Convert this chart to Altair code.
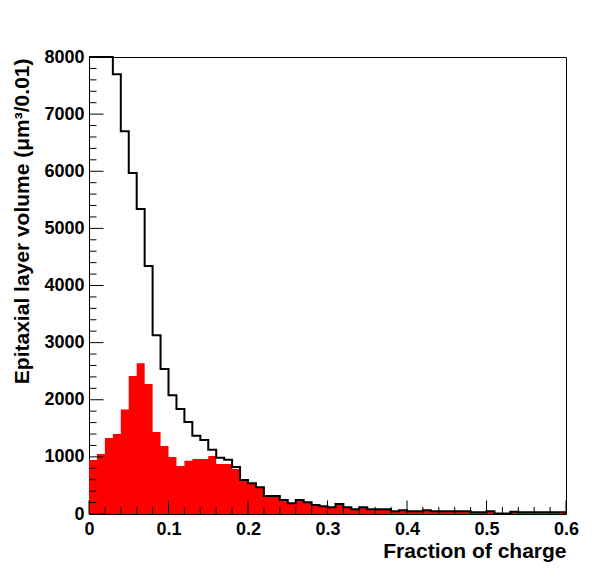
import altair as alt
import pandas as pd

# ---- data (bin width 0.01 from 0 to 0.6) ----
bin_width = 0.01
n_bins = 60

total_volume = [8000, 8000, 8000, 7700, 6700, 5970, 5340, 4340, 3130, 2540,
                2080, 1840, 1610, 1370, 1295, 1126, 986, 951, 823, 595,
                537, 470, 315, 315, 245, 190, 245, 207, 158, 137,
                117, 175, 117, 82, 117, 82, 82, 82, 50, 67,
                47, 47, 64, 47, 47, 47, 47, 47, 29, 29,
                47, 8, 8, 41, 29, 29, 29, 29, 29, 29]

red_volume = [945, 1050, 1330, 1400, 1830, 2415, 2640, 2275, 1435, 1190,
              1000, 840, 933, 963, 963, 1015, 875, 875, 788, 595,
              537, 470, 315, 315, 245, 190, 245, 207, 158, 137,
              115, 172, 114, 82, 117, 82, 82, 82, 50, 67,
              47, 47, 64, 47, 47, 47, 47, 47, 29, 29,
              47, 8, 8, 41, 29, 29, 29, 29, 29, 29]

x_major = [0, 0.1, 0.2, 0.3, 0.4, 0.5, 0.6]
x_minor = [0.02, 0.04, 0.06, 0.08, 0.12, 0.14, 0.16, 0.18, 0.22, 0.24, 0.26, 0.28,
           0.32, 0.34, 0.36, 0.38, 0.42, 0.44, 0.46, 0.48, 0.52, 0.54, 0.56, 0.58]
y_major = [0, 1000, 2000, 3000, 4000, 5000, 6000, 7000, 8000]
y_minor = [v for v in range(200, 8000, 200) if v % 1000 != 0]

# ---- tables ----
edges = [round(i * bin_width, 4) for i in range(n_bins + 1)]
hist = pd.DataFrame({
    "edge": edges,
    "total": total_volume + [total_volume[-1]],
    "red": red_volume + [red_volume[-1]],
})

W, H = 477, 457
FONT = "Liberation Sans"

xs = alt.Scale(domain=[0, 0.6], nice=False, zero=False)
ys = alt.Scale(domain=[0, 8000], nice=False)

x_axis = alt.Axis(values=x_major, format="~g", title="Fraction of charge",
                  ticks=False, tickSize=0, domain=False, grid=False,
                  labelFont=FONT, labelFontSize=18, labelFontWeight="bold",
                  labelColor="black", labelPadding=6, labelOverlap=False, labelFlush=False,
                  titleFont=FONT, titleFontSize=21, titleFontWeight="bold", titleColor="black",
                  titleX=477, titleY=43, titleAlign="right", titleAnchor="end",
                  titleBaseline="alphabetic")
y_axis = alt.Axis(values=y_major, format="d", title="Epitaxial layer volume (μm³/0.01)",
                  ticks=False, tickSize=0, domain=False, grid=False,
                  labelFont=FONT, labelFontSize=18, labelFontWeight="bold",
                  labelColor="black", labelPadding=5, labelOverlap=False, labelFlush=False,
                  titleFont=FONT, titleFontSize=21, titleFontWeight="bold", titleColor="black",
                  titleX=-61, titleY=1, titleAlign="right", titleAngle=270,
                  titleBaseline="alphabetic")

red_area = alt.Chart(hist).mark_area(interpolate="step-after", color="#ff0000").encode(
    x=alt.X("edge:Q", scale=xs, axis=x_axis),
    y=alt.Y("red:Q", scale=ys, axis=y_axis),
)

total_line = alt.Chart(hist).mark_line(interpolate="step-after", color="black",
                                       strokeWidth=2).encode(
    x=alt.X("edge:Q", scale=xs, axis=x_axis),
    y=alt.Y("total:Q", scale=ys, axis=y_axis),
)

xmaj = alt.Chart(pd.DataFrame({"t": x_major})).mark_rule(color="black", strokeWidth=1).encode(
    x=alt.X("t:Q", scale=xs, axis=x_axis), y=alt.value(H), y2=alt.value(H - 13.5))
xmin = alt.Chart(pd.DataFrame({"t": x_minor})).mark_rule(color="black", strokeWidth=1).encode(
    x=alt.X("t:Q", scale=xs, axis=x_axis), y=alt.value(H), y2=alt.value(H - 7))
ymaj = alt.Chart(pd.DataFrame({"t": y_major})).mark_rule(color="black", strokeWidth=1).encode(
    y=alt.Y("t:Q", scale=ys, axis=y_axis), x=alt.value(0), x2=alt.value(14.5))
ymin = alt.Chart(pd.DataFrame({"t": y_minor})).mark_rule(color="black", strokeWidth=1).encode(
    y=alt.Y("t:Q", scale=ys, axis=y_axis), x=alt.value(0), x2=alt.value(7.5))

chart = alt.layer(red_area, total_line, xmaj, xmin, ymaj, ymin).properties(
    width=W, height=H,
    autosize=alt.AutoSizeParams(type="none"),
    padding={"left": 81, "top": 49, "right": 22, "bottom": 50},
    background="white",
).configure_view(stroke="black", strokeWidth=1)

chart.save("out.html", embed_options={"renderer": "svg", "actions": False})
